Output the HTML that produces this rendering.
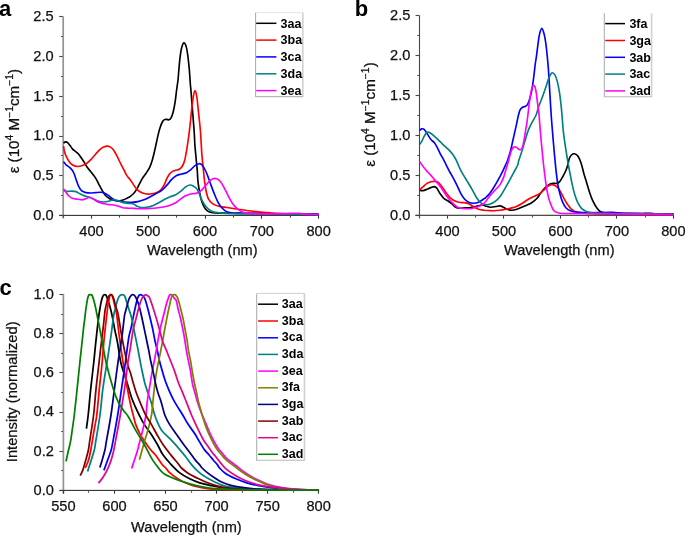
<!DOCTYPE html><html><head><meta charset="utf-8"><style>html,body{margin:0;padding:0;background:#fff;overflow:hidden;}svg{display:block;will-change:transform;}text{font-family:"Liberation Sans",sans-serif;}</style></head><body>
<svg width="685" height="535" viewBox="0 0 685 535">
<rect width="685" height="535" fill="#fff"/>
<rect x="62.35" y="16.40" width="1.70" height="202.10" fill="#939393"/>
<rect x="59.20" y="214.95" width="3.6" height="1.1" fill="#4a4a4a"/>
<rect x="59.20" y="174.95" width="3.6" height="1.1" fill="#4a4a4a"/>
<rect x="59.20" y="135.95" width="3.6" height="1.1" fill="#4a4a4a"/>
<rect x="59.20" y="95.95" width="3.6" height="1.1" fill="#4a4a4a"/>
<rect x="59.20" y="55.95" width="3.6" height="1.1" fill="#4a4a4a"/>
<rect x="59.20" y="15.95" width="3.6" height="1.1" fill="#4a4a4a"/>
<rect x="61.00" y="194.95" width="1.8" height="1.1" fill="#555"/>
<rect x="61.00" y="154.95" width="1.8" height="1.1" fill="#555"/>
<rect x="61.00" y="115.95" width="1.8" height="1.1" fill="#555"/>
<rect x="61.00" y="75.95" width="1.8" height="1.1" fill="#555"/>
<rect x="61.00" y="35.95" width="1.8" height="1.1" fill="#555"/>
<rect x="59.20" y="214.85" width="259.99" height="1.15" fill="#3a3a3a"/>
<rect x="90.95" y="215.40" width="1.1" height="3.3" fill="#3a3a3a"/>
<rect x="147.95" y="215.40" width="1.1" height="3.3" fill="#3a3a3a"/>
<rect x="204.95" y="215.40" width="1.1" height="3.3" fill="#3a3a3a"/>
<rect x="260.95" y="215.40" width="1.1" height="3.3" fill="#3a3a3a"/>
<rect x="317.95" y="215.40" width="1.1" height="3.3" fill="#3a3a3a"/>
<rect x="62.95" y="215.40" width="1.1" height="2.3" fill="#505050"/>
<rect x="118.95" y="215.40" width="1.1" height="2.3" fill="#505050"/>
<rect x="175.95" y="215.40" width="1.1" height="2.3" fill="#505050"/>
<rect x="232.95" y="215.40" width="1.1" height="2.3" fill="#505050"/>
<rect x="289.95" y="215.40" width="1.1" height="2.3" fill="#505050"/>
<path d="M63.50,143.10C63.83,142.90 64.82,141.98 65.50,141.90C66.18,141.82 66.83,141.98 67.60,142.60C68.37,143.22 69.27,144.52 70.10,145.60C70.93,146.68 71.77,148.18 72.60,149.10C73.43,150.02 74.17,150.33 75.10,151.10C76.03,151.87 77.18,152.60 78.20,153.70C79.22,154.80 80.20,156.28 81.20,157.70C82.20,159.12 83.20,160.60 84.20,162.20C85.20,163.80 86.02,165.62 87.20,167.30C88.38,168.98 90.03,170.70 91.30,172.30C92.57,173.90 93.77,175.37 94.80,176.90C95.83,178.43 96.68,180.00 97.50,181.50C98.32,183.00 98.83,184.25 99.70,185.90C100.57,187.55 101.70,189.75 102.70,191.40C103.70,193.05 104.53,194.57 105.70,195.80C106.87,197.03 108.38,198.05 109.70,198.80C111.02,199.55 111.95,199.97 113.60,200.30C115.25,200.63 117.93,200.88 119.60,200.80C121.27,200.72 122.37,200.23 123.60,199.80C124.83,199.37 125.93,198.73 127.00,198.20C128.07,197.67 128.85,197.42 130.00,196.60C131.15,195.78 132.75,194.58 133.90,193.30C135.05,192.02 135.98,190.47 136.90,188.90C137.82,187.33 138.48,185.65 139.40,183.90C140.32,182.15 141.32,180.13 142.40,178.40C143.48,176.67 144.68,175.33 145.90,173.50C147.12,171.67 148.65,169.58 149.70,167.40C150.75,165.22 151.43,162.92 152.20,160.40C152.97,157.88 153.62,155.17 154.30,152.30C154.98,149.43 155.63,146.23 156.30,143.20C156.97,140.17 157.63,136.78 158.30,134.10C158.97,131.42 159.63,129.12 160.30,127.10C160.97,125.08 161.60,123.25 162.30,122.00C163.00,120.75 163.75,120.03 164.50,119.60C165.25,119.17 166.05,119.37 166.80,119.40C167.55,119.43 168.28,120.07 169.00,119.80C169.72,119.53 170.42,119.05 171.10,117.80C171.78,116.55 172.43,114.90 173.10,112.30C173.77,109.70 174.52,105.92 175.10,102.20C175.68,98.48 176.12,93.70 176.60,90.00C177.08,86.30 177.62,83.43 178.00,80.00C178.38,76.57 178.53,73.37 178.90,69.40C179.27,65.43 179.73,59.83 180.20,56.20C180.67,52.57 181.07,49.82 181.70,47.60C182.33,45.38 183.22,42.93 184.00,42.90C184.78,42.87 185.73,45.02 186.40,47.40C187.07,49.78 187.52,53.53 188.00,57.20C188.48,60.87 188.92,65.02 189.30,69.40C189.68,73.78 190.03,80.07 190.30,83.50C190.57,86.93 190.60,86.38 190.90,90.00C191.20,93.62 191.70,100.13 192.10,105.20C192.50,110.27 192.93,115.68 193.30,120.40C193.67,125.12 194.03,129.38 194.30,133.50C194.57,137.62 194.57,140.63 194.90,145.10C195.23,149.57 195.90,155.98 196.30,160.30C196.70,164.62 197.02,167.40 197.30,171.00C197.58,174.60 197.57,178.10 198.00,181.90C198.43,185.70 199.25,190.48 199.90,193.80C200.55,197.12 201.07,199.40 201.90,201.80C202.73,204.20 203.73,206.55 204.90,208.20C206.07,209.85 207.25,210.92 208.90,211.70C210.55,212.48 211.82,212.65 214.80,212.90C217.78,213.15 222.32,213.15 226.80,213.20C231.28,213.25 236.17,213.15 241.70,213.20C247.23,213.25 251.95,213.37 260.00,213.50C268.05,213.63 280.23,213.85 290.00,214.00C299.77,214.15 313.83,214.33 318.60,214.40" fill="none" stroke="#000000" stroke-width="1.65" stroke-linejoin="round" stroke-linecap="butt"/>
<path d="M63.50,146.10C63.67,147.03 63.98,149.85 64.50,151.70C65.02,153.55 65.75,155.45 66.60,157.20C67.45,158.95 68.52,160.85 69.60,162.20C70.68,163.55 71.75,164.58 73.10,165.30C74.45,166.02 76.27,166.42 77.70,166.50C79.13,166.58 80.28,166.25 81.70,165.80C83.12,165.35 84.77,164.73 86.20,163.80C87.63,162.87 88.95,161.55 90.30,160.20C91.65,158.85 92.97,157.22 94.30,155.70C95.63,154.18 96.95,152.45 98.30,151.10C99.65,149.75 100.97,148.43 102.40,147.60C103.83,146.77 105.55,146.18 106.90,146.10C108.25,146.02 109.40,146.43 110.50,147.10C111.60,147.77 112.50,148.75 113.50,150.10C114.50,151.45 115.33,153.00 116.50,155.20C117.67,157.40 119.22,160.75 120.50,163.30C121.78,165.85 123.12,168.40 124.20,170.50C125.28,172.60 126.10,174.50 127.00,175.90C127.90,177.30 128.60,177.57 129.60,178.90C130.60,180.23 131.78,182.15 133.00,183.90C134.22,185.65 135.42,187.92 136.90,189.40C138.38,190.88 140.23,192.03 141.90,192.80C143.57,193.57 145.25,193.83 146.90,194.00C148.55,194.17 150.15,194.03 151.80,193.80C153.45,193.57 155.30,193.25 156.80,192.60C158.30,191.95 159.57,191.18 160.80,189.90C162.03,188.62 163.22,186.73 164.20,184.90C165.18,183.07 165.82,180.72 166.70,178.90C167.58,177.08 168.57,175.22 169.50,174.00C170.43,172.78 171.30,172.22 172.30,171.60C173.30,170.98 174.35,170.70 175.50,170.30C176.65,169.90 178.07,169.88 179.20,169.20C180.33,168.52 181.38,167.70 182.30,166.20C183.22,164.70 183.98,162.85 184.70,160.20C185.42,157.55 185.95,154.13 186.60,150.30C187.25,146.47 188.03,141.33 188.60,137.20C189.17,133.07 189.47,130.32 190.00,125.50C190.53,120.68 191.23,113.20 191.80,108.30C192.37,103.40 192.87,99.05 193.40,96.10C193.93,93.15 194.45,90.60 195.00,90.60C195.55,90.60 196.18,93.15 196.70,96.10C197.22,99.05 197.62,103.92 198.10,108.30C198.58,112.68 199.18,118.20 199.60,122.40C200.02,126.60 200.22,128.08 200.60,133.50C200.98,138.92 201.43,148.85 201.90,154.90C202.37,160.95 202.98,165.63 203.40,169.80C203.82,173.97 203.98,176.55 204.40,179.90C204.82,183.25 205.23,186.75 205.90,189.90C206.57,193.05 207.23,196.48 208.40,198.80C209.57,201.12 211.17,202.57 212.90,203.80C214.63,205.03 216.48,205.58 218.80,206.20C221.12,206.82 223.82,207.03 226.80,207.50C229.78,207.97 233.40,208.50 236.70,209.00C240.00,209.50 243.38,210.07 246.60,210.50C249.82,210.93 252.78,211.27 256.00,211.60C259.22,211.93 262.58,212.22 265.90,212.50C269.22,212.78 272.58,213.08 275.90,213.30C279.22,213.52 281.67,213.72 285.80,213.80C289.93,213.88 296.23,213.78 300.70,213.80C305.17,213.82 309.62,213.82 312.60,213.90C315.58,213.98 317.60,214.23 318.60,214.30" fill="none" stroke="#ff0000" stroke-width="1.65" stroke-linejoin="round" stroke-linecap="butt"/>
<path d="M63.50,161.70C63.93,162.22 65.08,163.87 66.10,164.80C67.12,165.73 68.57,166.38 69.60,167.30C70.63,168.22 71.53,169.18 72.30,170.30C73.07,171.42 73.52,172.32 74.20,174.00C74.88,175.68 75.62,178.25 76.40,180.40C77.18,182.55 78.00,185.15 78.90,186.90C79.80,188.65 80.65,189.95 81.80,190.90C82.95,191.85 84.30,192.25 85.80,192.60C87.30,192.95 89.15,193.00 90.80,193.00C92.45,193.00 94.05,192.72 95.70,192.60C97.35,192.48 99.20,192.18 100.70,192.30C102.20,192.42 103.37,192.72 104.70,193.30C106.03,193.88 107.38,194.88 108.70,195.80C110.02,196.72 111.28,197.97 112.60,198.80C113.92,199.63 115.10,200.30 116.60,200.80C118.10,201.30 119.70,201.55 121.60,201.80C123.50,202.05 126.27,202.22 128.00,202.30C129.73,202.38 130.35,202.42 132.00,202.30C133.65,202.18 135.92,202.02 137.90,201.60C139.88,201.18 141.92,200.57 143.90,199.80C145.88,199.03 147.82,198.00 149.80,197.00C151.78,196.00 153.82,194.90 155.80,193.80C157.78,192.70 159.88,191.80 161.70,190.40C163.52,189.00 165.03,187.23 166.70,185.40C168.37,183.57 170.05,181.05 171.70,179.40C173.35,177.75 174.95,176.40 176.60,175.50C178.25,174.60 179.95,174.45 181.60,174.00C183.25,173.55 185.00,173.48 186.50,172.80C188.00,172.12 189.13,171.15 190.60,169.90C192.07,168.65 193.87,166.33 195.30,165.30C196.73,164.27 198.05,163.73 199.20,163.70C200.35,163.67 201.20,164.05 202.20,165.10C203.20,166.15 204.25,168.12 205.20,170.00C206.15,171.88 206.98,174.02 207.90,176.40C208.82,178.78 209.63,181.40 210.70,184.30C211.77,187.20 213.12,190.88 214.30,193.80C215.48,196.72 216.55,199.48 217.80,201.80C219.05,204.12 220.30,206.05 221.80,207.70C223.30,209.35 224.82,210.78 226.80,211.70C228.78,212.62 230.40,212.90 233.70,213.20C237.00,213.50 238.88,213.37 246.60,213.50C254.32,213.63 268.00,213.85 280.00,214.00C292.00,214.15 312.17,214.33 318.60,214.40" fill="none" stroke="#0000ff" stroke-width="1.65" stroke-linejoin="round" stroke-linecap="butt"/>
<path d="M63.50,190.40C64.08,190.57 65.60,191.28 67.00,191.40C68.40,191.52 70.42,191.07 71.90,191.10C73.38,191.13 74.57,191.15 75.90,191.60C77.23,192.05 78.58,193.13 79.90,193.80C81.22,194.47 82.32,195.07 83.80,195.60C85.28,196.13 87.13,196.38 88.80,197.00C90.47,197.62 92.15,198.58 93.80,199.30C95.45,200.02 97.05,200.85 98.70,201.30C100.35,201.75 102.03,202.00 103.70,202.00C105.37,202.00 107.05,201.67 108.70,201.30C110.35,200.93 111.95,199.88 113.60,199.80C115.25,199.72 116.93,200.30 118.60,200.80C120.27,201.30 122.03,202.37 123.60,202.80C125.17,203.23 126.43,203.23 128.00,203.40C129.57,203.57 131.52,203.33 133.00,203.80C134.48,204.27 135.58,205.58 136.90,206.20C138.22,206.82 139.23,207.33 140.90,207.50C142.57,207.67 144.92,207.50 146.90,207.20C148.88,206.90 150.82,206.43 152.80,205.70C154.78,204.97 156.82,203.87 158.80,202.80C160.78,201.73 162.88,200.27 164.70,199.30C166.52,198.33 167.87,197.75 169.70,197.00C171.53,196.25 173.88,195.73 175.70,194.80C177.52,193.87 178.95,192.72 180.60,191.40C182.25,190.08 184.07,187.97 185.60,186.90C187.13,185.83 188.53,185.17 189.80,185.00C191.07,184.83 192.20,185.43 193.20,185.90C194.20,186.37 195.00,186.97 195.80,187.80C196.60,188.63 197.15,189.23 198.00,190.90C198.85,192.57 199.92,195.65 200.90,197.80C201.88,199.95 202.73,201.98 203.90,203.80C205.07,205.62 206.40,207.38 207.90,208.70C209.40,210.02 210.92,211.00 212.90,211.70C214.88,212.40 216.67,212.57 219.80,212.90C222.93,213.23 225.00,213.53 231.70,213.70C238.40,213.87 245.52,213.75 260.00,213.90C274.48,214.05 308.83,214.48 318.60,214.60" fill="none" stroke="#008080" stroke-width="1.65" stroke-linejoin="round" stroke-linecap="butt"/>
<path d="M63.50,188.90C63.92,189.47 65.10,191.12 66.00,192.30C66.90,193.48 67.75,194.95 68.90,196.00C70.05,197.05 71.40,198.05 72.90,198.60C74.40,199.15 76.25,199.10 77.90,199.30C79.55,199.50 81.32,199.97 82.80,199.80C84.28,199.63 85.63,198.72 86.80,198.30C87.97,197.88 88.63,197.13 89.80,197.30C90.97,197.47 92.32,198.47 93.80,199.30C95.28,200.13 97.05,201.58 98.70,202.30C100.35,203.02 102.03,203.22 103.70,203.60C105.37,203.98 106.97,204.37 108.70,204.60C110.43,204.83 112.45,204.73 114.10,205.00C115.75,205.27 117.18,205.75 118.60,206.20C120.02,206.65 121.03,207.37 122.60,207.70C124.17,208.03 126.43,208.12 128.00,208.20C129.57,208.28 130.35,208.12 132.00,208.20C133.65,208.28 135.58,208.62 137.90,208.70C140.22,208.78 143.25,208.78 145.90,208.70C148.55,208.62 151.17,208.45 153.80,208.20C156.43,207.95 159.22,207.62 161.70,207.20C164.18,206.78 166.53,206.35 168.70,205.70C170.87,205.05 172.88,204.28 174.70,203.30C176.52,202.32 177.95,200.97 179.60,199.80C181.25,198.63 182.93,197.22 184.60,196.30C186.27,195.38 188.03,194.75 189.60,194.30C191.17,193.85 192.77,193.82 194.00,193.60C195.23,193.38 195.68,193.62 197.00,193.00C198.32,192.38 200.25,191.42 201.90,189.90C203.55,188.38 205.40,185.57 206.90,183.90C208.40,182.23 209.58,180.82 210.90,179.90C212.22,178.98 213.48,178.40 214.80,178.40C216.12,178.40 217.55,178.90 218.80,179.90C220.05,180.90 221.13,182.57 222.30,184.40C223.47,186.23 224.65,188.67 225.80,190.90C226.95,193.13 228.05,195.65 229.20,197.80C230.35,199.95 231.45,202.07 232.70,203.80C233.95,205.53 235.20,206.88 236.70,208.20C238.20,209.52 239.88,210.82 241.70,211.70C243.52,212.58 244.55,213.12 247.60,213.50C250.65,213.88 255.28,213.95 260.00,214.00C264.72,214.05 271.60,213.87 275.90,213.80C280.20,213.73 282.83,213.68 285.80,213.60C288.77,213.52 291.38,213.33 293.70,213.30C296.02,213.27 298.03,213.27 299.70,213.40C301.37,213.53 300.55,213.90 303.70,214.10C306.85,214.30 316.12,214.52 318.60,214.60" fill="none" stroke="#ff00ff" stroke-width="1.65" stroke-linejoin="round" stroke-linecap="butt"/>
<text transform="translate(53.60,219.60)" font-size="14.60" text-anchor="end" font-weight="normal" fill="#111" stroke="#111" stroke-width="0.25">0.0</text>
<text transform="translate(53.60,179.90)" font-size="14.60" text-anchor="end" font-weight="normal" fill="#111" stroke="#111" stroke-width="0.25">0.5</text>
<text transform="translate(53.60,140.20)" font-size="14.60" text-anchor="end" font-weight="normal" fill="#111" stroke="#111" stroke-width="0.25">1.0</text>
<text transform="translate(53.60,100.50)" font-size="14.60" text-anchor="end" font-weight="normal" fill="#111" stroke="#111" stroke-width="0.25">1.5</text>
<text transform="translate(53.60,60.80)" font-size="14.60" text-anchor="end" font-weight="normal" fill="#111" stroke="#111" stroke-width="0.25">2.0</text>
<text transform="translate(53.60,21.10)" font-size="14.60" text-anchor="end" font-weight="normal" fill="#111" stroke="#111" stroke-width="0.25">2.5</text>
<text transform="translate(91.49,235.80)" font-size="14.60" text-anchor="middle" font-weight="normal" fill="#111" stroke="#111" stroke-width="0.25">400</text>
<text transform="translate(148.26,235.80)" font-size="14.60" text-anchor="middle" font-weight="normal" fill="#111" stroke="#111" stroke-width="0.25">500</text>
<text transform="translate(205.04,235.80)" font-size="14.60" text-anchor="middle" font-weight="normal" fill="#111" stroke="#111" stroke-width="0.25">600</text>
<text transform="translate(261.81,235.80)" font-size="14.60" text-anchor="middle" font-weight="normal" fill="#111" stroke="#111" stroke-width="0.25">700</text>
<text transform="translate(318.59,235.80)" font-size="14.60" text-anchor="middle" font-weight="normal" fill="#111" stroke="#111" stroke-width="0.25">800</text>
<text transform="translate(202.30,255.00)" font-size="14.60" text-anchor="middle" font-weight="normal" fill="#111" stroke="#111" stroke-width="0.25">Wavelength (nm)</text>
<text transform="translate(18.90,121.10) rotate(-90) scale(1.040,1)" font-size="14.60" text-anchor="middle" font-weight="normal" fill="#111" stroke="#111" stroke-width="0.25">ε (10<tspan font-size="10" dy="-6.2">4</tspan><tspan dy="6.2"> M</tspan><tspan font-size="10" dy="-6.2">−1</tspan><tspan dy="6.2">cm</tspan><tspan font-size="10" dy="-6.2">−1</tspan><tspan dy="6.2">)</tspan></text>
<rect x="255.60" y="12.60" width="47.00" height="84.00" fill="#fff"/>
<line x1="302.80" y1="12.60" x2="302.80" y2="96.60" stroke="#d2d2d2" stroke-width="1.7"/>
<line x1="255.60" y1="12.60" x2="255.60" y2="97.10" stroke="#acacac" stroke-width="1.05"/>
<line x1="255.60" y1="96.60" x2="303.10" y2="96.60" stroke="#b8b8b8" stroke-width="1.1"/>
<line x1="255.60" y1="12.60" x2="302.60" y2="12.60" stroke="#e6e6e6" stroke-width="1"/>
<line x1="256.20" y1="23.30" x2="276.40" y2="23.30" stroke="#000000" stroke-width="1.50"/>
<text transform="translate(280.60,27.50)" font-size="12.50" text-anchor="start" font-weight="bold" fill="#000">3aa</text>
<line x1="256.20" y1="40.10" x2="276.40" y2="40.10" stroke="#ff0000" stroke-width="1.50"/>
<text transform="translate(280.60,44.30)" font-size="12.50" text-anchor="start" font-weight="bold" fill="#000">3ba</text>
<line x1="256.20" y1="56.90" x2="276.40" y2="56.90" stroke="#0000ff" stroke-width="1.50"/>
<text transform="translate(280.60,61.10)" font-size="12.50" text-anchor="start" font-weight="bold" fill="#000">3ca</text>
<line x1="256.20" y1="73.80" x2="276.40" y2="73.80" stroke="#008080" stroke-width="1.50"/>
<text transform="translate(280.60,78.00)" font-size="12.50" text-anchor="start" font-weight="bold" fill="#000">3da</text>
<line x1="256.20" y1="90.60" x2="276.40" y2="90.60" stroke="#ff00ff" stroke-width="1.50"/>
<text transform="translate(280.60,94.80)" font-size="12.50" text-anchor="start" font-weight="bold" fill="#000">3ea</text>
<text transform="translate(-1.00,15.90)" font-size="22.00" text-anchor="start" font-weight="bold" fill="#000">a</text>
<rect x="418.95" y="15.30" width="1.10" height="203.10" fill="#484848"/>
<rect x="415.50" y="214.95" width="3.6" height="1.1" fill="#4a4a4a"/>
<rect x="415.50" y="174.95" width="3.6" height="1.1" fill="#4a4a4a"/>
<rect x="415.50" y="134.95" width="3.6" height="1.1" fill="#4a4a4a"/>
<rect x="415.50" y="94.95" width="3.6" height="1.1" fill="#4a4a4a"/>
<rect x="415.50" y="54.95" width="3.6" height="1.1" fill="#4a4a4a"/>
<rect x="415.50" y="14.95" width="3.6" height="1.1" fill="#4a4a4a"/>
<rect x="417.30" y="194.95" width="1.8" height="1.1" fill="#555"/>
<rect x="417.30" y="154.95" width="1.8" height="1.1" fill="#555"/>
<rect x="417.30" y="114.95" width="1.8" height="1.1" fill="#555"/>
<rect x="417.30" y="74.95" width="1.8" height="1.1" fill="#555"/>
<rect x="417.30" y="34.95" width="1.8" height="1.1" fill="#555"/>
<rect x="415.50" y="214.75" width="258.51" height="1.15" fill="#3a3a3a"/>
<rect x="446.95" y="215.30" width="1.1" height="3.3" fill="#3a3a3a"/>
<rect x="502.95" y="215.30" width="1.1" height="3.3" fill="#3a3a3a"/>
<rect x="559.95" y="215.30" width="1.1" height="3.3" fill="#3a3a3a"/>
<rect x="615.95" y="215.30" width="1.1" height="3.3" fill="#3a3a3a"/>
<rect x="672.95" y="215.30" width="1.1" height="3.3" fill="#3a3a3a"/>
<rect x="418.95" y="215.30" width="1.1" height="2.3" fill="#505050"/>
<rect x="474.95" y="215.30" width="1.1" height="2.3" fill="#505050"/>
<rect x="531.95" y="215.30" width="1.1" height="2.3" fill="#505050"/>
<rect x="587.95" y="215.30" width="1.1" height="2.3" fill="#505050"/>
<rect x="644.95" y="215.30" width="1.1" height="2.3" fill="#505050"/>
<path d="M419.70,190.30C420.25,190.35 421.80,190.77 423.00,190.60C424.20,190.43 425.58,189.80 426.90,189.30C428.22,188.80 429.65,188.05 430.90,187.60C432.15,187.15 433.40,186.48 434.40,186.60C435.40,186.72 436.00,187.18 436.90,188.30C437.80,189.42 438.65,191.63 439.80,193.30C440.95,194.97 442.47,197.05 443.80,198.30C445.13,199.55 446.48,199.90 447.80,200.80C449.12,201.70 450.38,202.63 451.70,203.70C453.02,204.77 454.37,206.45 455.70,207.20C457.03,207.95 458.20,208.08 459.70,208.20C461.20,208.32 462.88,208.02 464.70,207.90C466.52,207.78 468.78,207.73 470.60,207.50C472.42,207.27 473.95,206.88 475.60,206.50C477.25,206.12 479.27,205.45 480.50,205.20C481.73,204.95 482.08,204.83 483.00,205.00C483.92,205.17 484.68,205.83 486.00,206.20C487.32,206.57 489.25,207.15 490.90,207.20C492.55,207.25 494.40,206.72 495.90,206.50C497.40,206.28 498.65,205.78 499.90,205.90C501.15,206.02 502.25,206.65 503.40,207.20C504.55,207.75 505.40,208.70 506.80,209.20C508.20,209.70 510.13,210.20 511.80,210.20C513.47,210.20 515.15,209.70 516.80,209.20C518.45,208.70 520.05,207.87 521.70,207.20C523.35,206.53 525.03,205.95 526.70,205.20C528.37,204.45 530.05,203.77 531.70,202.70C533.35,201.63 535.12,200.37 536.60,198.80C538.08,197.23 539.27,195.05 540.60,193.30C541.93,191.55 543.20,189.75 544.60,188.30C546.00,186.85 547.60,185.42 549.00,184.60C550.40,183.78 551.68,183.60 553.00,183.40C554.32,183.20 555.75,183.73 556.90,183.40C558.05,183.07 558.90,182.57 559.90,181.40C560.90,180.23 561.90,178.22 562.90,176.40C563.90,174.58 565.07,172.48 565.90,170.50C566.73,168.52 567.33,166.50 567.90,164.50C568.47,162.50 568.70,160.08 569.30,158.50C569.90,156.92 570.63,155.78 571.50,155.00C572.37,154.22 573.38,153.55 574.50,153.80C575.62,154.05 577.08,154.88 578.20,156.50C579.32,158.12 580.28,160.77 581.20,163.50C582.12,166.23 582.78,169.67 583.70,172.90C584.62,176.13 585.70,179.58 586.70,182.90C587.70,186.22 588.70,189.83 589.70,192.80C590.70,195.77 591.53,198.22 592.70,200.70C593.87,203.18 595.38,205.87 596.70,207.70C598.02,209.53 599.12,210.83 600.60,211.70C602.08,212.57 603.03,212.62 605.60,212.90C608.17,213.18 610.27,213.28 616.00,213.40C621.73,213.52 634.67,213.62 640.00,213.60C645.33,213.58 645.50,213.28 648.00,213.30C650.50,213.32 650.73,213.57 655.00,213.70C659.27,213.83 670.50,214.03 673.60,214.10" fill="none" stroke="#000000" stroke-width="1.65" stroke-linejoin="round" stroke-linecap="butt"/>
<path d="M419.70,189.60C420.25,189.13 421.80,187.83 423.00,186.80C424.20,185.77 425.58,184.25 426.90,183.40C428.22,182.55 429.48,182.03 430.90,181.70C432.32,181.37 434.08,181.20 435.40,181.40C436.72,181.60 437.57,181.83 438.80,182.90C440.03,183.97 441.47,185.98 442.80,187.80C444.13,189.62 445.47,192.05 446.80,193.80C448.13,195.55 449.32,197.07 450.80,198.30C452.28,199.53 454.05,200.50 455.70,201.20C457.35,201.90 459.03,202.22 460.70,202.50C462.37,202.78 464.22,202.62 465.70,202.90C467.18,203.18 468.28,203.57 469.60,204.20C470.92,204.83 472.10,205.87 473.60,206.70C475.10,207.53 476.87,208.62 478.60,209.20C480.33,209.78 482.43,209.98 484.00,210.20C485.57,210.42 486.35,210.42 488.00,210.50C489.65,210.58 491.92,210.75 493.90,210.70C495.88,210.65 497.92,210.45 499.90,210.20C501.88,209.95 503.82,209.58 505.80,209.20C507.78,208.82 509.97,208.40 511.80,207.90C513.63,207.40 515.15,206.90 516.80,206.20C518.45,205.50 520.05,204.68 521.70,203.70C523.35,202.72 525.03,201.32 526.70,200.30C528.37,199.28 530.05,198.43 531.70,197.60C533.35,196.77 535.12,196.10 536.60,195.30C538.08,194.50 539.27,193.80 540.60,192.80C541.93,191.80 543.28,190.47 544.60,189.30C545.92,188.13 547.30,186.58 548.50,185.80C549.70,185.02 550.72,184.67 551.80,184.60C552.88,184.53 553.98,184.87 555.00,185.40C556.02,185.93 556.92,186.65 557.90,187.80C558.88,188.95 559.90,190.55 560.90,192.30C561.90,194.05 562.82,196.32 563.90,198.30C564.98,200.28 566.25,202.47 567.40,204.20C568.55,205.93 569.57,207.48 570.80,208.70C572.03,209.92 573.13,210.83 574.80,211.50C576.47,212.17 577.82,212.33 580.80,212.70C583.78,213.07 586.83,213.45 592.70,213.70C598.57,213.95 602.52,214.07 616.00,214.20C629.48,214.33 664.00,214.45 673.60,214.50" fill="none" stroke="#ff0000" stroke-width="1.65" stroke-linejoin="round" stroke-linecap="butt"/>
<path d="M419.70,130.40C420.00,130.15 420.88,129.12 421.50,128.90C422.12,128.68 422.75,128.77 423.40,129.10C424.05,129.43 424.65,129.93 425.40,130.90C426.15,131.87 426.98,133.48 427.90,134.90C428.82,136.32 429.82,138.08 430.90,139.40C431.98,140.72 433.32,141.40 434.40,142.80C435.48,144.20 436.42,145.97 437.40,147.80C438.38,149.63 439.23,151.73 440.30,153.80C441.37,155.87 442.55,157.82 443.80,160.20C445.05,162.58 446.80,166.13 447.80,168.10C448.80,170.07 448.82,170.20 449.80,172.00C450.78,173.80 452.38,176.43 453.70,178.90C455.02,181.37 456.53,184.40 457.70,186.80C458.87,189.20 459.53,191.22 460.70,193.30C461.87,195.38 463.38,197.82 464.70,199.30C466.02,200.78 467.12,201.55 468.60,202.20C470.08,202.85 471.93,203.20 473.60,203.20C475.27,203.20 476.87,202.93 478.60,202.20C480.33,201.47 482.77,199.62 484.00,198.80C485.23,197.98 485.02,198.22 486.00,197.30C486.98,196.38 488.58,194.97 489.90,193.30C491.22,191.63 492.57,189.45 493.90,187.30C495.23,185.15 496.57,182.80 497.90,180.40C499.23,178.00 500.67,175.38 501.90,172.90C503.13,170.42 504.32,167.70 505.30,165.50C506.28,163.30 506.88,162.32 507.80,159.70C508.72,157.08 509.97,152.95 510.80,149.80C511.63,146.65 512.13,143.78 512.80,140.80C513.47,137.82 514.13,134.88 514.80,131.90C515.47,128.92 516.18,125.72 516.80,122.90C517.42,120.08 517.93,117.20 518.50,115.00C519.07,112.80 519.50,111.00 520.20,109.70C520.90,108.40 521.78,107.78 522.70,107.20C523.62,106.62 524.87,106.70 525.70,106.20C526.53,105.70 527.03,105.45 527.70,104.20C528.37,102.95 529.03,100.93 529.70,98.70C530.37,96.47 531.13,93.60 531.70,90.80C532.27,88.00 532.70,84.72 533.10,81.90C533.50,79.08 533.72,77.05 534.10,73.90C534.48,70.75 535.02,65.87 535.40,63.00C535.78,60.13 535.98,59.73 536.40,56.70C536.82,53.67 537.40,48.43 537.90,44.80C538.40,41.17 538.75,37.63 539.40,34.90C540.05,32.17 540.98,28.40 541.80,28.40C542.62,28.40 543.60,32.17 544.30,34.90C545.00,37.63 545.50,41.17 546.00,44.80C546.50,48.43 546.92,52.83 547.30,56.70C547.68,60.57 548.03,64.63 548.30,68.00C548.57,71.37 548.63,72.60 548.90,76.90C549.17,81.20 549.52,87.45 549.90,93.80C550.28,100.15 550.75,108.48 551.20,115.00C551.65,121.52 552.07,126.43 552.60,132.90C553.13,139.37 553.88,148.05 554.40,153.80C554.92,159.55 555.33,163.80 555.70,167.40C556.07,171.00 556.23,172.48 556.60,175.40C556.97,178.32 557.35,181.83 557.90,184.90C558.45,187.97 559.15,191.00 559.90,193.80C560.65,196.60 561.40,199.38 562.40,201.70C563.40,204.02 564.50,206.17 565.90,207.70C567.30,209.23 568.82,210.15 570.80,210.90C572.78,211.65 574.98,211.90 577.80,212.20C580.62,212.50 584.00,212.63 587.70,212.70C591.40,212.77 595.95,212.65 600.00,212.60C604.05,212.55 607.00,212.27 612.00,212.40C617.00,212.53 619.73,213.10 630.00,213.40C640.27,213.70 666.33,214.07 673.60,214.20" fill="none" stroke="#0000ff" stroke-width="1.65" stroke-linejoin="round" stroke-linecap="butt"/>
<path d="M419.70,144.30C420.08,143.73 421.22,142.30 422.00,140.90C422.78,139.50 423.58,137.32 424.40,135.90C425.22,134.48 425.98,132.93 426.90,132.40C427.82,131.87 428.82,132.20 429.90,132.70C430.98,133.20 432.08,134.28 433.40,135.40C434.72,136.52 436.23,137.92 437.80,139.40C439.37,140.88 440.97,142.57 442.80,144.30C444.63,146.03 447.15,148.13 448.80,149.80C450.45,151.47 451.47,152.57 452.70,154.30C453.93,156.03 455.03,157.90 456.20,160.20C457.37,162.50 458.62,165.82 459.70,168.10C460.78,170.38 461.38,171.60 462.70,173.90C464.02,176.20 465.95,179.17 467.60,181.90C469.25,184.63 471.10,187.65 472.60,190.30C474.10,192.95 475.28,195.77 476.60,197.80C477.92,199.83 479.35,201.42 480.50,202.50C481.65,203.58 482.58,203.93 483.50,204.30C484.42,204.67 484.93,204.72 486.00,204.70C487.07,204.68 488.42,204.70 489.90,204.20C491.38,203.70 493.23,202.93 494.90,201.70C496.57,200.47 498.25,198.95 499.90,196.80C501.55,194.65 503.15,191.62 504.80,188.80C506.45,185.98 508.30,182.63 509.80,179.90C511.30,177.17 512.48,174.88 513.80,172.40C515.12,169.92 516.88,166.95 517.70,165.00C518.52,163.05 518.03,162.92 518.70,160.70C519.37,158.48 520.70,154.85 521.70,151.70C522.70,148.55 523.70,145.10 524.70,141.80C525.70,138.50 526.62,134.88 527.70,131.90C528.78,128.92 529.80,126.72 531.20,123.90C532.60,121.08 534.87,117.87 536.10,115.00C537.33,112.13 537.60,109.57 538.60,106.70C539.60,103.83 540.93,100.95 542.10,97.80C543.27,94.65 544.47,91.12 545.60,87.80C546.73,84.48 547.85,80.38 548.90,77.90C549.95,75.42 550.90,73.40 551.90,72.90C552.90,72.40 553.98,73.40 554.90,74.90C555.82,76.40 556.65,79.08 557.40,81.90C558.15,84.72 558.82,88.17 559.40,91.80C559.98,95.43 560.47,99.83 560.90,103.70C561.33,107.57 561.57,110.13 562.00,115.00C562.43,119.87 562.80,126.78 563.50,132.90C564.20,139.02 565.38,146.35 566.20,151.70C567.02,157.05 567.72,161.13 568.40,165.00C569.08,168.87 569.65,171.58 570.30,174.90C570.95,178.22 571.55,181.58 572.30,184.90C573.05,188.22 573.88,191.83 574.80,194.80C575.72,197.77 576.63,200.38 577.80,202.70C578.97,205.02 580.32,207.20 581.80,208.70C583.28,210.20 584.72,211.00 586.70,211.70C588.68,212.40 588.82,212.60 593.70,212.90C598.58,213.20 602.68,213.28 616.00,213.50C629.32,213.72 664.00,214.08 673.60,214.20" fill="none" stroke="#008080" stroke-width="1.65" stroke-linejoin="round" stroke-linecap="butt"/>
<path d="M419.70,161.70C420.08,162.25 420.97,163.62 422.00,165.00C423.03,166.38 424.42,168.27 425.90,170.00C427.38,171.73 429.23,173.50 430.90,175.40C432.57,177.30 434.25,179.42 435.90,181.40C437.55,183.38 439.32,185.32 440.80,187.30C442.28,189.28 443.47,191.38 444.80,193.30C446.13,195.22 447.48,197.15 448.80,198.80C450.12,200.45 451.38,201.88 452.70,203.20C454.02,204.52 455.37,205.87 456.70,206.70C458.03,207.53 459.20,207.87 460.70,208.20C462.20,208.53 464.05,208.62 465.70,208.70C467.35,208.78 468.95,208.90 470.60,208.70C472.25,208.50 474.12,207.95 475.60,207.50C477.08,207.05 478.35,206.50 479.50,206.00C480.65,205.50 481.42,205.30 482.50,204.50C483.58,203.70 484.77,202.65 486.00,201.20C487.23,199.75 488.42,197.62 489.90,195.80C491.38,193.98 493.23,192.12 494.90,190.30C496.57,188.48 498.48,186.97 499.90,184.90C501.32,182.83 502.42,180.38 503.40,177.90C504.38,175.42 505.15,172.15 505.80,170.00C506.45,167.85 506.80,166.72 507.30,165.00C507.80,163.28 508.13,162.08 508.80,159.70C509.47,157.32 510.47,152.82 511.30,150.70C512.13,148.58 512.97,147.57 513.80,147.00C514.63,146.43 515.32,146.83 516.30,147.30C517.28,147.77 518.72,149.72 519.70,149.80C520.68,149.88 521.53,149.13 522.20,147.80C522.87,146.47 523.20,144.28 523.70,141.80C524.20,139.32 524.70,135.88 525.20,132.90C525.70,129.92 526.25,126.88 526.70,123.90C527.15,120.92 527.48,118.37 527.90,115.00C528.32,111.63 528.73,107.23 529.20,103.70C529.67,100.17 530.22,96.53 530.70,93.80C531.18,91.07 531.62,88.72 532.10,87.30C532.58,85.88 533.10,85.30 533.60,85.30C534.10,85.30 534.63,85.88 535.10,87.30C535.57,88.72 535.98,91.07 536.40,93.80C536.82,96.53 537.15,100.17 537.60,103.70C538.05,107.23 538.73,111.47 539.10,115.00C539.47,118.53 539.47,120.77 539.80,124.90C540.13,129.03 540.65,134.83 541.10,139.80C541.55,144.77 542.05,150.17 542.50,154.70C542.95,159.23 543.33,162.95 543.80,167.00C544.27,171.05 544.73,174.92 545.30,179.00C545.87,183.08 546.53,187.97 547.20,191.50C547.87,195.03 548.67,198.00 549.30,200.20C549.93,202.40 550.30,203.03 551.00,204.70C551.70,206.37 552.35,208.87 553.50,210.20C554.65,211.53 555.50,212.15 557.90,212.70C560.30,213.25 558.22,213.30 567.90,213.50C577.58,213.70 598.38,213.72 616.00,213.90C633.62,214.08 664.00,214.48 673.60,214.60" fill="none" stroke="#ff00ff" stroke-width="1.65" stroke-linejoin="round" stroke-linecap="butt"/>
<text transform="translate(410.40,219.70)" font-size="14.60" text-anchor="end" font-weight="normal" fill="#111" stroke="#111" stroke-width="0.25">0.0</text>
<text transform="translate(410.40,179.80)" font-size="14.60" text-anchor="end" font-weight="normal" fill="#111" stroke="#111" stroke-width="0.25">0.5</text>
<text transform="translate(410.40,139.90)" font-size="14.60" text-anchor="end" font-weight="normal" fill="#111" stroke="#111" stroke-width="0.25">1.0</text>
<text transform="translate(410.40,100.00)" font-size="14.60" text-anchor="end" font-weight="normal" fill="#111" stroke="#111" stroke-width="0.25">1.5</text>
<text transform="translate(410.40,60.10)" font-size="14.60" text-anchor="end" font-weight="normal" fill="#111" stroke="#111" stroke-width="0.25">2.0</text>
<text transform="translate(410.40,20.20)" font-size="14.60" text-anchor="end" font-weight="normal" fill="#111" stroke="#111" stroke-width="0.25">2.5</text>
<text transform="translate(447.49,235.80)" font-size="14.60" text-anchor="middle" font-weight="normal" fill="#111" stroke="#111" stroke-width="0.25">400</text>
<text transform="translate(503.97,235.80)" font-size="14.60" text-anchor="middle" font-weight="normal" fill="#111" stroke="#111" stroke-width="0.25">500</text>
<text transform="translate(560.45,235.80)" font-size="14.60" text-anchor="middle" font-weight="normal" fill="#111" stroke="#111" stroke-width="0.25">600</text>
<text transform="translate(616.93,235.80)" font-size="14.60" text-anchor="middle" font-weight="normal" fill="#111" stroke="#111" stroke-width="0.25">700</text>
<text transform="translate(673.41,235.80)" font-size="14.60" text-anchor="middle" font-weight="normal" fill="#111" stroke="#111" stroke-width="0.25">800</text>
<text transform="translate(559.20,255.00)" font-size="14.60" text-anchor="middle" font-weight="normal" fill="#111" stroke="#111" stroke-width="0.25">Wavelength (nm)</text>
<text transform="translate(375.00,114.55) rotate(-90) scale(1.040,1)" font-size="14.60" text-anchor="middle" font-weight="normal" fill="#111" stroke="#111" stroke-width="0.25">ε (10<tspan font-size="10" dy="-6.2">4</tspan><tspan dy="6.2"> M</tspan><tspan font-size="10" dy="-6.2">−1</tspan><tspan dy="6.2">cm</tspan><tspan font-size="10" dy="-6.2">−1</tspan><tspan dy="6.2">)</tspan></text>
<rect x="604.30" y="13.30" width="47.10" height="83.50" fill="#fff"/>
<line x1="651.60" y1="13.30" x2="651.60" y2="96.80" stroke="#d2d2d2" stroke-width="1.7"/>
<line x1="604.30" y1="13.30" x2="604.30" y2="97.30" stroke="#acacac" stroke-width="1.05"/>
<line x1="604.30" y1="96.80" x2="651.90" y2="96.80" stroke="#b8b8b8" stroke-width="1.1"/>
<line x1="605.20" y1="23.60" x2="625.00" y2="23.60" stroke="#000000" stroke-width="1.50"/>
<text transform="translate(629.40,27.80)" font-size="12.50" text-anchor="start" font-weight="bold" fill="#000">3fa</text>
<line x1="605.20" y1="40.50" x2="625.00" y2="40.50" stroke="#ff0000" stroke-width="1.50"/>
<text transform="translate(629.40,44.70)" font-size="12.50" text-anchor="start" font-weight="bold" fill="#000">3ga</text>
<line x1="605.20" y1="57.30" x2="625.00" y2="57.30" stroke="#0000ff" stroke-width="1.50"/>
<text transform="translate(629.40,61.50)" font-size="12.50" text-anchor="start" font-weight="bold" fill="#000">3ab</text>
<line x1="605.20" y1="74.10" x2="625.00" y2="74.10" stroke="#008080" stroke-width="1.50"/>
<text transform="translate(629.40,78.30)" font-size="12.50" text-anchor="start" font-weight="bold" fill="#000">3ac</text>
<line x1="605.20" y1="90.90" x2="625.00" y2="90.90" stroke="#ff00ff" stroke-width="1.50"/>
<text transform="translate(629.40,95.10)" font-size="12.50" text-anchor="start" font-weight="bold" fill="#000">3ad</text>
<text transform="translate(354.80,15.90)" font-size="22.00" text-anchor="start" font-weight="bold" fill="#000">b</text>
<rect x="62.55" y="293.90" width="1.70" height="199.60" fill="#939393"/>
<rect x="59.40" y="489.95" width="3.6" height="1.1" fill="#4a4a4a"/>
<rect x="59.40" y="450.95" width="3.6" height="1.1" fill="#4a4a4a"/>
<rect x="59.40" y="411.95" width="3.6" height="1.1" fill="#4a4a4a"/>
<rect x="59.40" y="371.95" width="3.6" height="1.1" fill="#4a4a4a"/>
<rect x="59.40" y="332.95" width="3.6" height="1.1" fill="#4a4a4a"/>
<rect x="59.40" y="293.95" width="3.6" height="1.1" fill="#4a4a4a"/>
<rect x="61.20" y="469.95" width="1.8" height="1.1" fill="#555"/>
<rect x="61.20" y="430.95" width="1.8" height="1.1" fill="#555"/>
<rect x="61.20" y="391.95" width="1.8" height="1.1" fill="#555"/>
<rect x="61.20" y="352.95" width="1.8" height="1.1" fill="#555"/>
<rect x="61.20" y="313.95" width="1.8" height="1.1" fill="#555"/>
<rect x="59.40" y="489.85" width="259.85" height="1.15" fill="#3a3a3a"/>
<rect x="62.95" y="490.40" width="1.1" height="3.3" fill="#3a3a3a"/>
<rect x="113.95" y="490.40" width="1.1" height="3.3" fill="#3a3a3a"/>
<rect x="164.95" y="490.40" width="1.1" height="3.3" fill="#3a3a3a"/>
<rect x="215.95" y="490.40" width="1.1" height="3.3" fill="#3a3a3a"/>
<rect x="266.95" y="490.40" width="1.1" height="3.3" fill="#3a3a3a"/>
<rect x="317.95" y="490.40" width="1.1" height="3.3" fill="#3a3a3a"/>
<rect x="87.95" y="490.40" width="1.1" height="2.3" fill="#505050"/>
<rect x="138.95" y="490.40" width="1.1" height="2.3" fill="#505050"/>
<rect x="190.95" y="490.40" width="1.1" height="2.3" fill="#505050"/>
<rect x="241.95" y="490.40" width="1.1" height="2.3" fill="#505050"/>
<rect x="292.95" y="490.40" width="1.1" height="2.3" fill="#505050"/>
<path d="M86.40,428.60C86.70,426.33 87.48,421.57 88.20,415.00C88.92,408.43 89.78,397.87 90.70,389.20C91.62,380.53 92.90,370.37 93.70,363.00C94.50,355.63 94.90,350.77 95.50,345.00C96.10,339.23 96.75,333.23 97.30,328.40C97.85,323.57 98.37,319.23 98.80,316.00C99.23,312.77 99.53,311.23 99.90,309.00C100.27,306.77 100.57,304.58 101.00,302.60C101.43,300.62 102.05,298.37 102.50,297.10C102.95,295.83 103.15,295.35 103.70,295.00C104.25,294.65 105.23,294.57 105.80,295.00C106.37,295.43 106.58,296.25 107.10,297.60C107.62,298.95 108.30,301.12 108.90,303.10C109.50,305.08 110.08,307.02 110.70,309.50C111.32,311.98 111.90,314.52 112.60,318.00C113.30,321.48 114.10,326.40 114.90,330.40C115.70,334.40 116.40,336.57 117.40,342.00C118.40,347.43 119.63,357.33 120.90,363.00C122.17,368.67 123.68,371.75 125.00,376.00C126.32,380.25 127.72,384.92 128.80,388.50C129.88,392.08 130.37,394.35 131.50,397.50C132.63,400.65 134.32,404.48 135.60,407.40C136.88,410.32 137.78,412.22 139.20,415.00C140.62,417.78 142.10,420.90 144.10,424.10C146.10,427.30 149.00,430.83 151.20,434.20C153.40,437.57 155.37,440.90 157.30,444.30C159.23,447.70 160.65,451.40 162.80,454.60C164.95,457.80 167.37,460.45 170.20,463.50C173.03,466.55 176.55,470.35 179.80,472.90C183.05,475.45 186.38,477.15 189.70,478.80C193.02,480.45 196.38,481.72 199.70,482.80C203.02,483.88 206.55,484.63 209.60,485.30C212.65,485.97 212.93,486.22 218.00,486.80C223.07,487.38 231.33,488.32 240.00,488.80C248.67,489.28 256.87,489.47 270.00,489.70C283.13,489.93 310.67,490.12 318.80,490.20" fill="none" stroke="#000000" stroke-width="1.75" stroke-linejoin="round" stroke-linecap="butt"/>
<path d="M85.30,467.90C85.85,466.57 87.68,462.88 88.60,459.90C89.52,456.92 90.18,453.12 90.80,450.00C91.42,446.88 91.68,444.87 92.30,441.20C92.92,437.53 93.75,432.37 94.50,428.00C95.25,423.63 96.00,421.47 96.80,415.00C97.60,408.53 98.42,397.87 99.30,389.20C100.18,380.53 101.32,371.20 102.10,363.00C102.88,354.80 103.42,346.33 104.00,340.00C104.58,333.67 105.17,328.95 105.60,325.00C106.03,321.05 106.32,318.72 106.60,316.30C106.88,313.88 107.08,312.35 107.30,310.50C107.52,308.65 107.63,306.93 107.90,305.20C108.17,303.47 108.57,301.67 108.90,300.10C109.23,298.53 109.55,296.68 109.90,295.80C110.25,294.92 110.60,294.83 111.00,294.80C111.40,294.77 111.93,294.88 112.30,295.60C112.67,296.32 112.80,297.50 113.20,299.10C113.60,300.70 114.23,303.18 114.70,305.20C115.17,307.22 115.63,309.35 116.00,311.20C116.37,313.05 116.33,311.97 116.90,316.30C117.47,320.63 118.37,329.42 119.40,337.20C120.43,344.98 121.75,354.33 123.10,363.00C124.45,371.67 126.27,382.30 127.50,389.20C128.73,396.10 129.55,400.10 130.50,404.40C131.45,408.70 132.35,411.72 133.20,415.00C134.05,418.28 134.45,420.90 135.60,424.10C136.75,427.30 138.50,431.17 140.10,434.20C141.70,437.23 143.52,439.78 145.20,442.30C146.88,444.82 148.48,447.18 150.20,449.30C151.92,451.42 153.47,452.43 155.50,455.00C157.53,457.57 160.68,462.53 162.40,464.70C164.12,466.87 164.55,466.63 165.80,468.00C167.05,469.37 167.90,471.10 169.90,472.90C171.90,474.70 175.32,477.20 177.80,478.80C180.28,480.40 181.98,481.27 184.80,482.50C187.62,483.73 190.90,485.17 194.70,486.20C198.50,487.23 201.72,488.13 207.60,488.70C213.48,489.27 211.47,489.35 230.00,489.60C248.53,489.85 304.00,490.10 318.80,490.20" fill="none" stroke="#ff0000" stroke-width="1.75" stroke-linejoin="round" stroke-linecap="butt"/>
<path d="M103.90,470.40C104.53,468.65 106.48,463.30 107.70,459.90C108.92,456.50 110.32,453.12 111.20,450.00C112.08,446.88 111.92,447.03 113.00,441.20C114.08,435.37 116.28,423.67 117.70,415.00C119.12,406.33 120.23,397.87 121.50,389.20C122.77,380.53 124.10,371.53 125.30,363.00C126.50,354.47 127.75,343.77 128.70,338.00C129.65,332.23 130.28,331.68 131.00,328.40C131.72,325.12 132.32,321.67 133.00,318.30C133.68,314.93 134.33,311.57 135.10,308.20C135.87,304.83 136.87,300.30 137.60,298.10C138.33,295.90 138.85,295.52 139.50,295.00C140.15,294.48 140.65,294.48 141.50,295.00C142.35,295.52 143.57,295.90 144.60,298.10C145.63,300.30 146.77,304.83 147.70,308.20C148.63,311.57 149.37,314.83 150.20,318.30C151.03,321.77 151.90,325.22 152.70,329.00C153.50,332.78 154.23,337.47 155.00,341.00C155.77,344.53 156.55,346.87 157.30,350.20C158.05,353.53 158.67,357.53 159.50,361.00C160.33,364.47 161.30,367.58 162.30,371.00C163.30,374.42 164.23,377.95 165.50,381.50C166.77,385.05 168.33,388.82 169.90,392.30C171.47,395.78 172.77,398.62 174.90,402.40C177.03,406.18 180.52,411.38 182.70,415.00C184.88,418.62 185.95,420.93 188.00,424.10C190.05,427.27 193.33,431.48 195.00,434.00C196.67,436.52 196.48,436.65 198.00,439.20C199.52,441.75 202.25,446.67 204.10,449.30C205.95,451.93 207.58,453.22 209.10,455.00C210.62,456.78 211.80,458.35 213.20,460.00C214.60,461.65 216.45,463.58 217.50,464.90C218.55,466.22 218.10,466.42 219.50,467.90C220.90,469.38 223.18,471.98 225.90,473.80C228.62,475.62 232.32,477.30 235.80,478.80C239.28,480.30 242.98,481.65 246.80,482.80C250.62,483.95 254.57,484.88 258.70,485.70C262.83,486.52 267.72,487.20 271.60,487.70C275.48,488.20 277.27,488.38 282.00,488.70C286.73,489.02 293.87,489.35 300.00,489.60C306.13,489.85 315.67,490.10 318.80,490.20" fill="none" stroke="#0000ff" stroke-width="1.75" stroke-linejoin="round" stroke-linecap="butt"/>
<path d="M87.60,471.40C88.22,469.48 90.18,463.47 91.30,459.90C92.42,456.33 93.55,453.12 94.30,450.00C95.05,446.88 94.85,447.03 95.80,441.20C96.75,435.37 98.83,423.67 100.00,415.00C101.17,406.33 101.65,397.87 102.80,389.20C103.95,380.53 105.57,371.67 106.90,363.00C108.23,354.33 109.67,345.15 110.80,337.20C111.93,329.25 112.97,319.97 113.70,315.30C114.43,310.63 114.70,311.23 115.20,309.20C115.70,307.17 116.12,305.12 116.70,303.10C117.28,301.08 118.07,298.42 118.70,297.10C119.33,295.78 119.92,295.63 120.50,295.20C121.08,294.77 121.62,294.50 122.20,294.50C122.78,294.50 123.48,294.68 124.00,295.20C124.52,295.72 124.80,296.28 125.30,297.60C125.80,298.92 126.40,301.17 127.00,303.10C127.60,305.03 128.25,307.17 128.90,309.20C129.55,311.23 130.33,313.33 130.90,315.30C131.47,317.27 131.78,318.55 132.30,321.00C132.82,323.45 133.37,326.82 134.00,330.00C134.63,333.18 135.42,336.73 136.10,340.10C136.78,343.47 137.43,346.72 138.10,350.20C138.77,353.68 139.43,357.53 140.10,361.00C140.77,364.47 141.32,367.33 142.10,371.00C142.88,374.67 143.87,379.45 144.80,383.00C145.73,386.55 146.63,389.07 147.70,392.30C148.77,395.53 150.03,398.62 151.20,402.40C152.37,406.18 153.52,411.38 154.70,415.00C155.88,418.62 157.03,421.40 158.30,424.10C159.57,426.80 160.28,428.68 162.30,431.20C164.32,433.72 167.53,436.18 170.40,439.20C173.27,442.22 176.98,446.42 179.50,449.30C182.02,452.18 183.47,453.90 185.50,456.50C187.53,459.10 189.33,462.17 191.70,464.90C194.07,467.63 196.88,470.58 199.70,472.90C202.52,475.22 205.88,477.20 208.60,478.80C211.32,480.40 213.93,481.50 216.00,482.50C218.07,483.50 218.52,484.02 221.00,484.80C223.48,485.58 226.27,486.47 230.90,487.20C235.53,487.93 242.28,488.75 248.80,489.20C255.32,489.65 258.33,489.73 270.00,489.90C281.67,490.07 310.67,490.15 318.80,490.20" fill="none" stroke="#008080" stroke-width="1.75" stroke-linejoin="round" stroke-linecap="butt"/>
<path d="M131.60,468.50C132.02,467.25 133.28,463.45 134.10,461.00C134.92,458.55 135.78,456.13 136.50,453.80C137.22,451.47 137.80,449.25 138.40,447.00C139.00,444.75 139.52,442.55 140.10,440.30C140.68,438.05 141.33,435.73 141.90,433.50C142.47,431.27 142.98,429.15 143.50,426.90C144.02,424.65 144.55,422.25 145.00,420.00C145.45,417.75 145.83,416.40 146.20,413.40C146.57,410.40 146.78,405.48 147.20,402.00C147.62,398.52 148.22,395.53 148.70,392.50C149.18,389.47 149.48,387.50 150.10,383.80C150.72,380.10 151.57,374.78 152.40,370.30C153.23,365.82 154.25,361.38 155.10,356.90C155.95,352.42 156.70,347.88 157.50,343.40C158.30,338.92 159.02,334.18 159.90,330.00C160.78,325.82 161.90,321.93 162.80,318.30C163.70,314.67 164.60,310.92 165.30,308.20C166.00,305.48 166.48,303.68 167.00,302.00C167.52,300.32 168.02,299.22 168.40,298.10C168.78,296.98 169.00,295.88 169.30,295.30C169.60,294.72 169.78,294.70 170.20,294.60C170.62,294.50 171.37,294.47 171.80,294.70C172.23,294.93 172.37,295.38 172.80,296.00C173.23,296.62 173.88,297.77 174.40,298.40C174.92,299.03 175.48,299.05 175.90,299.80C176.32,300.55 176.57,301.50 176.90,302.90C177.23,304.30 177.30,305.63 177.90,308.20C178.50,310.77 179.68,314.83 180.50,318.30C181.32,321.77 182.08,325.38 182.80,329.00C183.52,332.62 184.22,336.47 184.80,340.00C185.38,343.53 185.72,346.82 186.30,350.20C186.88,353.58 187.62,356.93 188.30,360.30C188.98,363.67 189.70,366.45 190.40,370.40C191.10,374.35 191.73,380.23 192.50,384.00C193.27,387.77 194.12,389.83 195.00,393.00C195.88,396.17 196.70,399.58 197.80,403.00C198.90,406.42 200.27,410.12 201.60,413.50C202.93,416.88 204.40,419.98 205.80,423.30C207.20,426.62 208.43,430.03 210.00,433.40C211.57,436.77 213.73,440.87 215.20,443.50C216.67,446.13 217.53,447.48 218.80,449.20C220.07,450.92 221.67,452.45 222.80,453.80C223.93,455.15 224.27,455.97 225.60,457.30C226.93,458.63 229.15,460.47 230.80,461.80C232.45,463.13 232.97,463.40 235.50,465.30C238.03,467.20 242.50,470.85 246.00,473.20C249.50,475.55 252.85,477.55 256.50,479.40C260.15,481.25 263.65,482.95 267.90,484.30C272.15,485.65 277.18,486.67 282.00,487.50C286.82,488.33 290.67,488.85 296.80,489.30C302.93,489.75 315.13,490.05 318.80,490.20" fill="none" stroke="#ff00ff" stroke-width="1.75" stroke-linejoin="round" stroke-linecap="butt"/>
<path d="M139.40,459.80C139.85,458.17 141.20,453.25 142.10,450.00C143.00,446.75 144.00,443.05 144.80,440.30C145.60,437.55 146.23,435.73 146.90,433.50C147.57,431.27 148.22,429.15 148.80,426.90C149.38,424.65 149.90,422.25 150.40,420.00C150.90,417.75 151.37,416.57 151.80,413.40C152.23,410.23 152.50,405.93 153.00,401.00C153.50,396.07 154.17,388.92 154.80,383.80C155.43,378.68 156.02,374.78 156.80,370.30C157.58,365.82 158.60,361.38 159.50,356.90C160.40,352.42 161.35,347.88 162.20,343.40C163.05,338.92 163.83,334.18 164.60,330.00C165.37,325.82 166.08,321.93 166.80,318.30C167.52,314.67 168.20,311.42 168.90,308.20C169.60,304.98 170.43,301.15 171.00,299.00C171.57,296.85 171.92,296.00 172.30,295.30C172.68,294.60 172.78,294.87 173.30,294.80C173.82,294.73 174.85,294.67 175.40,294.90C175.95,295.13 176.18,295.58 176.60,296.20C177.02,296.82 177.25,296.60 177.90,298.60C178.55,300.60 179.65,304.92 180.50,308.20C181.35,311.48 182.25,314.83 183.00,318.30C183.75,321.77 184.30,325.22 185.00,329.00C185.70,332.78 186.63,337.47 187.20,341.00C187.77,344.53 187.83,346.87 188.40,350.20C188.97,353.53 189.97,357.53 190.60,361.00C191.23,364.47 191.57,367.33 192.20,371.00C192.83,374.67 193.68,379.45 194.40,383.00C195.12,386.55 195.82,389.13 196.50,392.30C197.18,395.47 197.83,399.22 198.50,402.00C199.17,404.78 199.95,407.00 200.50,409.00C201.05,411.00 201.05,411.48 201.80,414.00C202.55,416.52 203.80,420.73 205.00,424.10C206.20,427.47 207.50,430.83 209.00,434.20C210.50,437.57 212.58,441.67 214.00,444.30C215.42,446.93 216.25,448.28 217.50,450.00C218.75,451.72 220.37,453.25 221.50,454.60C222.63,455.95 222.97,456.77 224.30,458.10C225.63,459.43 227.83,461.27 229.50,462.60C231.17,463.93 231.72,464.20 234.30,466.10C236.88,468.00 241.40,471.68 245.00,474.00C248.60,476.32 253.07,478.57 255.90,480.00C258.73,481.43 260.05,481.80 262.00,482.60C263.95,483.40 265.95,484.18 267.60,484.80C269.25,485.42 269.50,485.72 271.90,486.30C274.30,486.88 277.85,487.75 282.00,488.30C286.15,488.85 290.67,489.27 296.80,489.60C302.93,489.93 315.13,490.18 318.80,490.30" fill="none" stroke="#808000" stroke-width="1.75" stroke-linejoin="round" stroke-linecap="butt"/>
<path d="M99.90,467.40C100.28,466.15 101.37,462.80 102.20,459.90C103.03,457.00 104.20,453.12 104.90,450.00C105.60,446.88 105.38,447.03 106.40,441.20C107.42,435.37 109.67,423.67 111.00,415.00C112.33,406.33 113.25,397.87 114.40,389.20C115.55,380.53 116.65,371.67 117.90,363.00C119.15,354.33 120.83,344.87 121.90,337.20C122.97,329.53 123.73,321.17 124.30,317.00C124.87,312.83 124.88,313.92 125.30,312.20C125.72,310.48 126.27,308.65 126.80,306.70C127.33,304.75 127.97,302.12 128.50,300.50C129.03,298.88 129.33,297.97 130.00,297.00C130.67,296.03 131.67,294.87 132.50,294.70C133.33,294.53 134.27,295.12 135.00,296.00C135.73,296.88 136.30,298.67 136.90,300.00C137.50,301.33 137.98,302.00 138.60,304.00C139.22,306.00 139.85,308.78 140.60,312.00C141.35,315.22 142.33,319.73 143.10,323.30C143.87,326.87 144.55,330.28 145.20,333.40C145.85,336.52 146.42,339.20 147.00,342.00C147.58,344.80 148.08,347.03 148.70,350.20C149.32,353.37 149.98,357.53 150.70,361.00C151.42,364.47 152.22,367.33 153.00,371.00C153.78,374.67 154.60,379.45 155.40,383.00C156.20,386.55 156.82,389.07 157.80,392.30C158.78,395.53 160.13,398.62 161.30,402.40C162.47,406.18 163.45,411.38 164.80,415.00C166.15,418.62 167.47,420.90 169.40,424.10C171.33,427.30 174.05,430.83 176.40,434.20C178.75,437.57 181.00,440.88 183.50,444.30C186.00,447.72 189.38,452.02 191.40,454.70C193.42,457.38 194.22,458.70 195.60,460.40C196.98,462.10 198.62,463.63 199.70,464.90C200.78,466.17 200.78,466.67 202.10,468.00C203.42,469.33 205.53,471.27 207.60,472.90C209.67,474.53 212.27,476.32 214.50,477.80C216.73,479.28 218.27,480.55 221.00,481.80C223.73,483.05 227.10,484.32 230.90,485.30C234.70,486.28 239.17,487.05 243.80,487.70C248.43,488.35 252.67,488.83 258.70,489.20C264.73,489.57 269.98,489.73 280.00,489.90C290.02,490.07 312.33,490.15 318.80,490.20" fill="none" stroke="#000080" stroke-width="1.75" stroke-linejoin="round" stroke-linecap="butt"/>
<path d="M80.20,475.60C80.65,474.65 81.97,472.52 82.90,469.90C83.83,467.28 84.88,463.22 85.80,459.90C86.72,456.58 87.75,453.12 88.40,450.00C89.05,446.88 88.83,447.03 89.70,441.20C90.57,435.37 92.55,423.67 93.60,415.00C94.65,406.33 95.10,397.87 96.00,389.20C96.90,380.53 98.00,371.67 99.00,363.00C100.00,354.33 101.25,343.53 102.00,337.20C102.75,330.87 103.10,328.48 103.50,325.00C103.90,321.52 104.13,318.77 104.40,316.30C104.67,313.83 104.73,312.40 105.10,310.20C105.47,308.00 106.10,305.20 106.60,303.10C107.10,301.00 107.53,298.95 108.10,297.60C108.67,296.25 109.43,295.50 110.00,295.00C110.57,294.50 110.88,294.00 111.50,294.60C112.12,295.20 113.05,296.83 113.70,298.60C114.35,300.37 114.80,303.13 115.40,305.20C116.00,307.27 116.78,309.15 117.30,311.00C117.82,312.85 117.73,311.93 118.50,316.30C119.27,320.67 120.45,329.42 121.90,337.20C123.35,344.98 125.77,357.03 127.20,363.00C128.63,368.97 129.53,369.80 130.50,373.00C131.47,376.20 132.07,378.98 133.00,382.20C133.93,385.42 134.92,388.93 136.10,392.30C137.28,395.67 138.50,398.62 140.10,402.40C141.70,406.18 143.85,411.38 145.70,415.00C147.55,418.62 149.35,420.90 151.20,424.10C153.05,427.30 154.87,430.83 156.80,434.20C158.73,437.57 160.50,440.90 162.80,444.30C165.10,447.70 168.07,451.40 170.60,454.60C173.13,457.80 176.18,461.27 178.00,463.50C179.82,465.73 179.88,466.43 181.50,468.00C183.12,469.57 184.83,471.10 187.70,472.90C190.57,474.70 195.38,477.15 198.70,478.80C202.02,480.45 204.72,481.68 207.60,482.80C210.48,483.92 213.27,484.68 216.00,485.50C218.73,486.32 220.20,487.08 224.00,487.70C227.80,488.32 232.80,488.85 238.80,489.20C244.80,489.55 246.67,489.63 260.00,489.80C273.33,489.97 309.00,490.13 318.80,490.20" fill="none" stroke="#800000" stroke-width="1.75" stroke-linejoin="round" stroke-linecap="butt"/>
<path d="M98.50,483.10C99.20,482.22 101.25,480.00 102.70,477.80C104.15,475.60 105.78,472.88 107.20,469.90C108.62,466.92 110.10,463.22 111.20,459.90C112.30,456.58 113.08,453.12 113.80,450.00C114.52,446.88 114.42,447.03 115.50,441.20C116.58,435.37 118.80,423.67 120.30,415.00C121.80,406.33 123.22,398.03 124.50,389.20C125.78,380.37 127.08,368.50 128.00,362.00C128.92,355.50 129.42,353.85 130.00,350.20C130.58,346.55 130.95,343.63 131.50,340.10C132.05,336.57 132.53,332.63 133.30,329.00C134.07,325.37 135.22,321.77 136.10,318.30C136.98,314.83 137.87,310.92 138.60,308.20C139.33,305.48 139.92,303.68 140.50,302.00C141.08,300.32 141.52,299.18 142.10,298.10C142.68,297.02 143.32,296.05 144.00,295.50C144.68,294.95 145.53,294.72 146.20,294.80C146.87,294.88 147.42,295.45 148.00,296.00C148.58,296.55 148.83,296.07 149.70,298.10C150.57,300.13 152.10,304.83 153.20,308.20C154.30,311.57 155.28,314.83 156.30,318.30C157.32,321.77 158.27,325.22 159.30,329.00C160.33,332.78 161.33,337.47 162.50,341.00C163.67,344.53 164.98,346.95 166.30,350.20C167.62,353.45 169.05,357.10 170.40,360.50C171.75,363.90 173.05,366.85 174.40,370.60C175.75,374.35 177.15,379.38 178.50,383.00C179.85,386.62 181.17,389.07 182.50,392.30C183.83,395.53 185.00,398.62 186.50,402.40C188.00,406.18 189.98,411.38 191.50,415.00C193.02,418.62 194.52,421.75 195.60,424.10C196.68,426.45 196.68,426.45 198.00,429.10C199.32,431.75 201.90,437.22 203.50,440.00C205.10,442.78 206.23,443.85 207.60,445.80C208.97,447.75 210.23,449.75 211.70,451.70C213.17,453.65 214.85,455.55 216.40,457.50C217.95,459.45 219.35,461.45 221.00,463.40C222.65,465.35 223.83,467.13 226.30,469.20C228.77,471.27 232.55,473.87 235.80,475.80C239.05,477.73 241.98,479.30 245.80,480.80C249.62,482.30 254.07,483.73 258.70,484.80C263.33,485.87 269.72,486.63 273.60,487.20C277.48,487.77 278.13,487.83 282.00,488.20C285.87,488.57 290.67,489.07 296.80,489.40C302.93,489.73 315.13,490.07 318.80,490.20" fill="none" stroke="#e1078a" stroke-width="1.75" stroke-linejoin="round" stroke-linecap="butt"/>
<path d="M66.00,461.40C66.38,459.67 67.53,454.37 68.30,451.00C69.07,447.63 69.90,445.03 70.60,441.20C71.30,437.37 71.88,432.37 72.50,428.00C73.12,423.63 73.53,421.47 74.30,415.00C75.07,408.53 76.18,397.87 77.10,389.20C78.02,380.53 78.93,371.20 79.80,363.00C80.67,354.80 81.68,345.77 82.30,340.00C82.92,334.23 83.08,332.02 83.50,328.40C83.92,324.78 84.40,321.53 84.80,318.30C85.20,315.07 85.48,312.03 85.90,309.00C86.32,305.97 86.92,302.17 87.30,300.10C87.68,298.03 87.90,297.47 88.20,296.60C88.50,295.73 88.53,295.18 89.10,294.90C89.67,294.62 91.02,294.62 91.60,294.90C92.18,295.18 92.25,295.73 92.60,296.60C92.95,297.47 93.18,298.17 93.70,300.10C94.22,302.03 95.03,305.17 95.70,308.20C96.37,311.23 97.03,314.93 97.70,318.30C98.37,321.67 99.07,325.12 99.70,328.40C100.33,331.68 100.95,335.07 101.50,338.00C102.05,340.93 102.22,341.83 103.00,346.00C103.78,350.17 104.47,355.80 106.20,363.00C107.93,370.20 111.37,382.63 113.40,389.20C115.43,395.77 116.72,398.87 118.40,402.40C120.08,405.93 121.87,408.05 123.50,410.40C125.13,412.75 126.27,413.38 128.20,416.50C130.13,419.62 132.45,424.47 135.10,429.10C137.75,433.73 141.82,440.30 144.10,444.30C146.38,448.30 147.42,450.55 148.80,453.10C150.18,455.65 151.10,457.53 152.40,459.60C153.70,461.67 154.85,463.28 156.60,465.50C158.35,467.72 160.68,471.02 162.90,472.90C165.12,474.78 167.08,475.48 169.90,476.80C172.72,478.12 176.50,479.63 179.80,480.80C183.10,481.97 186.38,482.88 189.70,483.80C193.02,484.72 196.05,485.55 199.70,486.30C203.35,487.05 206.55,487.80 211.60,488.30C216.65,488.80 221.93,489.05 230.00,489.30C238.07,489.55 245.20,489.65 260.00,489.80C274.80,489.95 309.00,490.13 318.80,490.20" fill="none" stroke="#008000" stroke-width="1.75" stroke-linejoin="round" stroke-linecap="butt"/>
<text transform="translate(53.90,494.70)" font-size="14.60" text-anchor="end" font-weight="normal" fill="#111" stroke="#111" stroke-width="0.25">0.0</text>
<text transform="translate(53.90,455.50)" font-size="14.60" text-anchor="end" font-weight="normal" fill="#111" stroke="#111" stroke-width="0.25">0.2</text>
<text transform="translate(53.90,416.30)" font-size="14.60" text-anchor="end" font-weight="normal" fill="#111" stroke="#111" stroke-width="0.25">0.4</text>
<text transform="translate(53.90,377.10)" font-size="14.60" text-anchor="end" font-weight="normal" fill="#111" stroke="#111" stroke-width="0.25">0.6</text>
<text transform="translate(53.90,337.90)" font-size="14.60" text-anchor="end" font-weight="normal" fill="#111" stroke="#111" stroke-width="0.25">0.8</text>
<text transform="translate(53.90,298.70)" font-size="14.60" text-anchor="end" font-weight="normal" fill="#111" stroke="#111" stroke-width="0.25">1.0</text>
<text transform="translate(63.40,510.80)" font-size="14.60" text-anchor="middle" font-weight="normal" fill="#111" stroke="#111" stroke-width="0.25">550</text>
<text transform="translate(114.45,510.80)" font-size="14.60" text-anchor="middle" font-weight="normal" fill="#111" stroke="#111" stroke-width="0.25">600</text>
<text transform="translate(165.50,510.80)" font-size="14.60" text-anchor="middle" font-weight="normal" fill="#111" stroke="#111" stroke-width="0.25">650</text>
<text transform="translate(216.55,510.80)" font-size="14.60" text-anchor="middle" font-weight="normal" fill="#111" stroke="#111" stroke-width="0.25">700</text>
<text transform="translate(267.60,510.80)" font-size="14.60" text-anchor="middle" font-weight="normal" fill="#111" stroke="#111" stroke-width="0.25">750</text>
<text transform="translate(318.65,510.80)" font-size="14.60" text-anchor="middle" font-weight="normal" fill="#111" stroke="#111" stroke-width="0.25">800</text>
<text transform="translate(186.40,531.90)" font-size="14.60" text-anchor="middle" font-weight="normal" fill="#111" stroke="#111" stroke-width="0.25">Wavelength (nm)</text>
<text transform="translate(17.20,391.80) rotate(-90) scale(1.010,1)" font-size="14.60" text-anchor="middle" font-weight="normal" fill="#111" stroke="#111" stroke-width="0.25">Intensity (normalized)</text>
<rect x="256.70" y="293.40" width="47.60" height="166.80" fill="#fff"/>
<line x1="304.50" y1="293.40" x2="304.50" y2="460.20" stroke="#d2d2d2" stroke-width="1.7"/>
<line x1="256.70" y1="293.40" x2="256.70" y2="460.70" stroke="#acacac" stroke-width="1.05"/>
<line x1="256.70" y1="460.20" x2="304.80" y2="460.20" stroke="#b8b8b8" stroke-width="1.1"/>
<line x1="256.70" y1="293.40" x2="304.30" y2="293.40" stroke="#d0d0d0" stroke-width="1"/>
<line x1="258.10" y1="304.20" x2="278.00" y2="304.20" stroke="#000000" stroke-width="1.50"/>
<text transform="translate(281.80,307.80)" font-size="12.50" text-anchor="start" font-weight="bold" fill="#000">3aa</text>
<line x1="258.10" y1="321.00" x2="278.00" y2="321.00" stroke="#ff0000" stroke-width="1.50"/>
<text transform="translate(281.80,324.60)" font-size="12.50" text-anchor="start" font-weight="bold" fill="#000">3ba</text>
<line x1="258.10" y1="337.80" x2="278.00" y2="337.80" stroke="#0000ff" stroke-width="1.50"/>
<text transform="translate(281.80,341.40)" font-size="12.50" text-anchor="start" font-weight="bold" fill="#000">3ca</text>
<line x1="258.10" y1="354.40" x2="278.00" y2="354.40" stroke="#008080" stroke-width="1.50"/>
<text transform="translate(281.80,358.00)" font-size="12.50" text-anchor="start" font-weight="bold" fill="#000">3da</text>
<line x1="258.10" y1="371.10" x2="278.00" y2="371.10" stroke="#ff00ff" stroke-width="1.50"/>
<text transform="translate(281.80,374.70)" font-size="12.50" text-anchor="start" font-weight="bold" fill="#000">3ea</text>
<line x1="258.10" y1="387.80" x2="278.00" y2="387.80" stroke="#808000" stroke-width="1.50"/>
<text transform="translate(281.80,391.40)" font-size="12.50" text-anchor="start" font-weight="bold" fill="#000">3fa</text>
<line x1="258.10" y1="404.40" x2="278.00" y2="404.40" stroke="#000080" stroke-width="1.50"/>
<text transform="translate(281.80,408.00)" font-size="12.50" text-anchor="start" font-weight="bold" fill="#000">3ga</text>
<line x1="258.10" y1="421.10" x2="278.00" y2="421.10" stroke="#800000" stroke-width="1.50"/>
<text transform="translate(281.80,424.70)" font-size="12.50" text-anchor="start" font-weight="bold" fill="#000">3ab</text>
<line x1="258.10" y1="437.70" x2="278.00" y2="437.70" stroke="#e1078a" stroke-width="1.50"/>
<text transform="translate(281.80,441.30)" font-size="12.50" text-anchor="start" font-weight="bold" fill="#000">3ac</text>
<line x1="258.10" y1="454.30" x2="278.00" y2="454.30" stroke="#008000" stroke-width="1.50"/>
<text transform="translate(281.80,457.90)" font-size="12.50" text-anchor="start" font-weight="bold" fill="#000">3ad</text>
<text transform="translate(-0.50,294.60)" font-size="22.00" text-anchor="start" font-weight="bold" fill="#000">c</text>
</svg></body></html>
